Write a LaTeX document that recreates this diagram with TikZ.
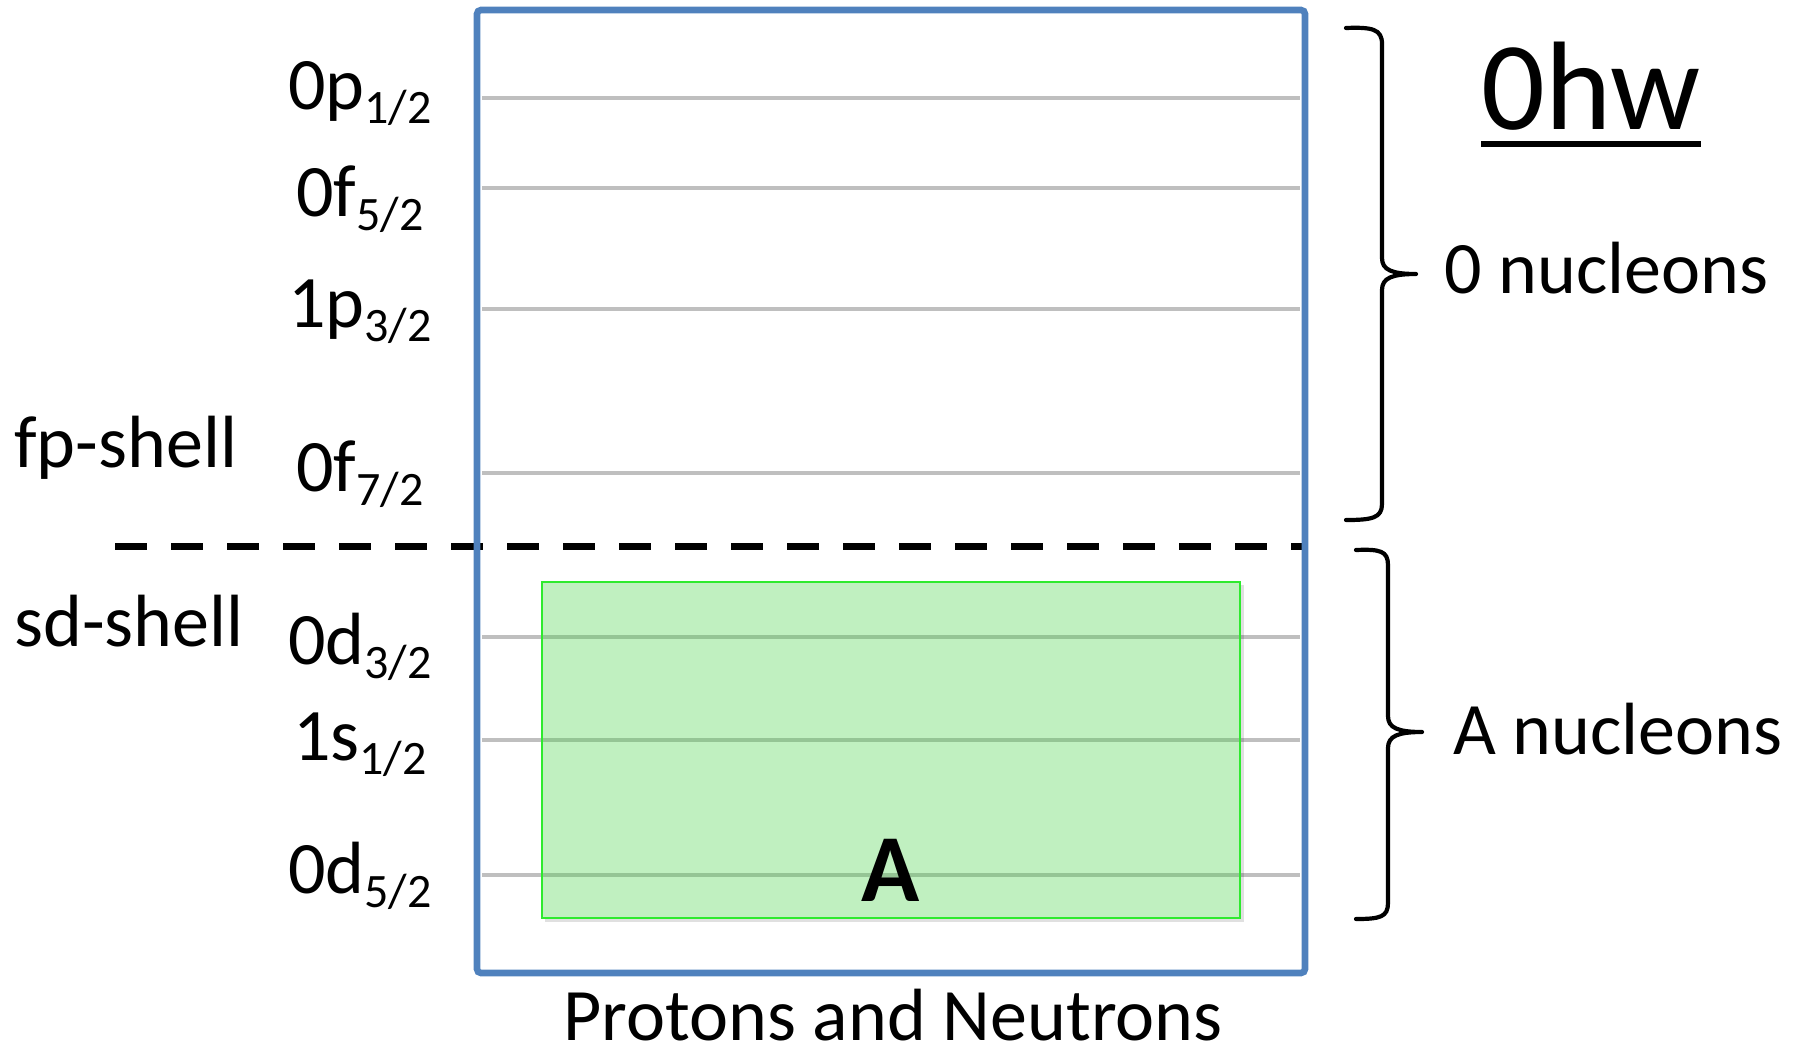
\documentclass[tikz,border=0pt]{standalone}
\usepackage{fontspec}
\setmainfont{Carlito}
\definecolor{boxblue}{HTML}{4F81BD}
\definecolor{levelgrey}{HTML}{BFBFBF}
\definecolor{fillgreen}{RGB}{66,210,66}
\definecolor{edgegreen}{HTML}{2EEA2E}
\newcommand\lvsub[1]{\raisebox{-7pt}{\fontsize{24}{28}\selectfont #1}}
\begin{document}
\begin{tikzpicture}[x=0.5pt,y=-0.5pt,
  lbl/.style={inner sep=0pt,font=\fontsize{37}{44}\selectfont},
  level/.style={draw=levelgrey,line width=1.9pt},
  bracepath/.style={draw=black,line width=2.1pt,line cap=round,line join=round}]
\useasboundingbox (0,0) rectangle (1800,1055);
% level lines
\foreach \yy/\nm in {98/a,188/b,309/c,473/d,637/e,740/f,875/g}{
  \coordinate (lv\nm L) at (482,\yy);
  \coordinate (lv\nm R) at (1300,\yy);
  \draw[level] (lv\nm L) -- (lv\nm R);
}
% dashed separation
\coordinate (dashL) at (115,546);
\coordinate (dashR) at (1305,546);
\draw[line width=3.5pt,dash pattern=on 16pt off 12pt] (dashL) -- (dashR);
% green block
\fill[black,opacity=0.12] (545,585) rectangle (1244,922);
\fill[white] (542,582) rectangle (1240,918);
\draw[level] (542,637) -- (1240,637);
\draw[level] (542,740) -- (1240,740);
\draw[level] (542,875) -- (1240,875);
\path[fill=fillgreen,fill opacity=0.33,draw=edgegreen,line width=0.9pt] (542,582) rectangle (1240,918);
\node[inner sep=0pt,anchor=base,font=\bfseries\fontsize{48}{56}\selectfont] (Alet) at (891,901) {A};
% blue box
\draw[boxblue,line width=3.3pt,rounded corners=2pt] (477,10) rectangle (1305,973);
% level labels
\node[lbl,anchor=base] (l1) at (360,109) {0p\lvsub{1/2}};
\node[lbl,anchor=base] (l2) at (360,216) {0f\lvsub{5/2}};
\node[lbl,anchor=base] (l3) at (360,327) {1p\lvsub{3/2}};
\node[lbl,anchor=base] (l4) at (360,491) {0f\lvsub{7/2}};
\node[lbl,anchor=base] (l5) at (360,664) {0d\lvsub{3/2}};
\node[lbl,anchor=base] (l6) at (360,760) {1s\lvsub{1/2}};
\node[lbl,anchor=base] (l7) at (360,893) {0d\lvsub{5/2}};
\node[lbl,anchor=base west] (fp) at (14,467) {fp-shell};
\node[lbl,anchor=base west] (sd) at (14,646) {sd-shell};
% braces
\draw[bracepath] (1346,28) .. controls (1372,27) and (1382,29) .. (1382,44)
  -- (1382,258) .. controls (1382,270) and (1392,274) .. (1416,274)
  .. controls (1392,274) and (1382,278) .. (1382,290)
  -- (1382,504) .. controls (1382,518) and (1372,520) .. (1346,520);
\draw[bracepath] (1356,550) .. controls (1380,549) and (1388,551) .. (1388,565)
  -- (1388,716) .. controls (1388,728) and (1398,732) .. (1422,732)
  .. controls (1398,732) and (1388,736) .. (1388,748)
  -- (1388,903) .. controls (1388,917) and (1380,919) .. (1356,919);
\node[lbl,anchor=base west] (n0) at (1444,293) {0 nucleons};
\node[lbl,anchor=base west] (nA) at (1453,754) {A nucleons};
% title
\node[inner sep=0pt,anchor=base west,font=\fontsize{63}{75}\selectfont] (ohw) at (1481,129) {0hw};
\draw[line width=3pt] ([yshift=-7.5pt]ohw.base west) -- ([yshift=-7.5pt]ohw.base east);
\node[lbl,anchor=base] (pn) at (893,1040) {Protons and Neutrons};
\end{tikzpicture}
\end{document}
